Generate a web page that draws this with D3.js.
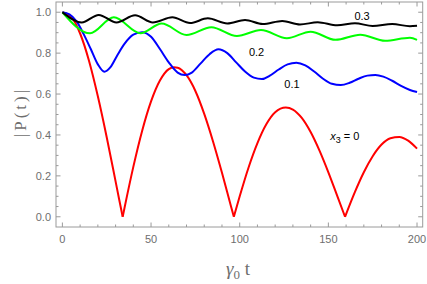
<!DOCTYPE html>
<html>
<head>
<meta charset="utf-8">
<script src="https://d3js.org/d3.v7.min.js"></script>
<style>
  body { margin: 0; background: #fff; }
  text { font-family: "Liberation Sans", Arial, sans-serif; }
</style>
</head>
<body>
<svg width="427" height="284"></svg>
<script>
// x3 = 0 (red), values read at t
const redT = [0, 5, 10, 15, 20, 25, 30, 32, 34, 35, 40, 45, 50, 55, 60, 63, 65, 70, 75, 80, 85, 90, 95, 96.7,
  100, 105, 110, 115, 120, 126, 130, 135, 140, 145, 150, 155, 159.4, 165, 170, 175, 180, 185, 190, 195, 200];
const redV = [1.0, 0.977, 0.896, 0.763, 0.589, 0.389, 0.173, 0.086, 0, 0.042, 0.244, 0.421, 0.564, 0.666, 0.722, 0.731, 0.729, 0.692, 0.615, 0.503, 0.367, 0.215, 0.054, 0,
  0.100, 0.241, 0.360, 0.452, 0.511, 0.534, 0.524, 0.483, 0.414, 0.323, 0.217, 0.102, 0, 0.122, 0.218, 0.296, 0.353, 0.384, 0.390, 0.372, 0.333];

// x3 = 0.1 (blue)
const blueT = [0, 4, 8, 12, 16, 20, 23.7, 27, 31, 35, 40, 45, 50, 55, 60, 65, 69, 73, 78, 83, 88, 93, 98, 103, 108, 112.5,
  117, 122, 127, 132, 137, 142, 147, 152, 157, 162, 167, 172, 176.5, 181, 186, 191, 196, 200];
const blueV = [1.0, 0.99, 0.955, 0.893, 0.82, 0.745, 0.709, 0.73, 0.79, 0.845, 0.89, 0.902, 0.88, 0.82, 0.755, 0.705, 0.693, 0.705, 0.75, 0.795, 0.819, 0.80, 0.755, 0.71, 0.68, 0.673,
  0.69, 0.72, 0.745, 0.753, 0.74, 0.71, 0.675, 0.65, 0.644, 0.655, 0.675, 0.69, 0.693, 0.685, 0.665, 0.64, 0.62, 0.61];

// x3 = 0.2 (green)
const greenT = [0, 15.6, 29, 44, 56, 70, 84, 98.4, 112, 126.6, 140, 154, 168, 182, 196, 200];
const greenV = [1.0, 0.897, 0.975, 0.897, 0.945, 0.889, 0.927, 0.884, 0.913, 0.873, 0.905, 0.865, 0.89, 0.86, 0.875, 0.865];

// x3 = 0.3 (black)
const blackT = [0, 10.9, 20.5, 30.5, 41, 51, 62, 72, 82, 93, 103, 113, 124, 134, 144, 155, 165, 175, 186, 196, 200];
const blackV = [1.0, 0.950, 0.987, 0.950, 0.985, 0.950, 0.975, 0.947, 0.970, 0.945, 0.962, 0.942, 0.957, 0.940, 0.951, 0.936, 0.946, 0.933, 0.942, 0.932, 0.934];

const xMajor = [0, 50, 100, 150, 200];
const yMajor = [0, 0.2, 0.4, 0.6, 0.8, 1.0];

const svg = d3.select("svg");
const x = d3.scaleLinear().domain([-3.6, 203.2]).range([56, 422.7]);
const y = d3.scaleLinear().domain([-0.05, 1.05]).range([227, 2]);

const frameColor = "#9a9a9a";
const tickText = "#6e6e6e";

// frame
svg.append("rect")
  .attr("x", x.range()[0]).attr("y", y.range()[1])
  .attr("width", x.range()[1] - x.range()[0])
  .attr("height", y.range()[0] - y.range()[1])
  .attr("fill", "none").attr("stroke", frameColor).attr("stroke-width", 1);

// ticks on all four sides, pointing inward
const xMinor = d3.range(0, 201, 10);
const yMinor = d3.range(0, 1.0001, 0.05);
const tickG = svg.append("g").attr("stroke", frameColor).attr("stroke-width", 1);
xMinor.forEach(t => {
  const len = xMajor.includes(t) ? 4.5 : 2.5;
  tickG.append("line").attr("x1", x(t)).attr("x2", x(t)).attr("y1", y.range()[0]).attr("y2", y.range()[0] - len);
  tickG.append("line").attr("x1", x(t)).attr("x2", x(t)).attr("y1", y.range()[1]).attr("y2", y.range()[1] + len);
});
yMinor.forEach(v => {
  const major = yMajor.some(m => Math.abs(m - v) < 1e-6);
  const len = major ? 4.5 : 2.5;
  tickG.append("line").attr("y1", y(v)).attr("y2", y(v)).attr("x1", x.range()[0]).attr("x2", x.range()[0] + len);
  tickG.append("line").attr("y1", y(v)).attr("y2", y(v)).attr("x1", x.range()[1]).attr("x2", x.range()[1] - len);
});

// tick labels
svg.append("g").selectAll("text").data(xMajor).join("text")
  .attr("x", d => x(d)).attr("y", 243)
  .attr("text-anchor", "middle").attr("font-size", 11).attr("fill", tickText)
  .text(d => d);
svg.append("g").selectAll("text").data(yMajor).join("text")
  .attr("x", 51).attr("y", d => y(d) + 4)
  .attr("text-anchor", "end").attr("font-size", 11).attr("fill", tickText)
  .text(d => d.toFixed(1));

// axis titles
svg.append("text")
  .attr("transform", "translate(26,112) rotate(-90)")
  .attr("text-anchor", "middle")
  .style("font-family", "'Liberation Serif', 'Times New Roman', serif")
  .attr("font-size", 17).attr("fill", tickText).attr("letter-spacing", 3)
  .text("|P(t)|");

const xt = svg.append("text")
  .attr("x", 238).attr("y", 275)
  .attr("text-anchor", "middle")
  .style("font-family", "'Liberation Serif', 'Times New Roman', serif")
  .attr("font-size", 19).attr("fill", tickText);
xt.append("tspan").attr("font-style", "italic").text("γ");
xt.append("tspan").attr("font-size", 13).attr("dy", 4).text("0");
xt.append("tspan").attr("dy", -4).text(" t");

// curves
const line = d3.line().x(d => x(d[0])).y(d => y(d[1])).curve(d3.curveMonotoneX);
const pairs = (ts, vs) => ts.map((t, i) => [t, vs[i]]);

// red has cusps at its zeros: draw each arch separately
const red = pairs(redT, redV);
const arches = [];
let cur = [];
red.forEach(p => {
  cur.push(p);
  if (p[1] === 0) { arches.push(cur); cur = [p]; }
});
if (cur.length > 1) arches.push(cur);

const series = [
  { pts: pairs(blackT, blackV), color: "#000000" },
  { pts: pairs(greenT, greenV), color: "#00ff00" },
  { pts: pairs(blueT, blueV), color: "#0000ff" }
];

const plot = svg.append("g").attr("fill", "none").attr("stroke-width", 2).attr("stroke-linejoin", "round");
arches.forEach(a => plot.append("path").attr("d", line(a)).attr("stroke", "#ff0000"));
series.slice().reverse().forEach(s => plot.append("path").attr("d", line(s.pts)).attr("stroke", s.color));

// curve labels
const labels = [
  { text: "0.3", t: 169, v: 0.962 },
  { text: "0.2", t: 109.5, v: 0.784 },
  { text: "0.1", t: 129.5, v: 0.628 }
];
svg.append("g").selectAll("text").data(labels).join("text")
  .attr("x", d => x(d.t)).attr("y", d => y(d.v))
  .attr("text-anchor", "middle").attr("font-size", 11).attr("fill", "#000")
  .text(d => d.text);

const xl = svg.append("text")
  .attr("x", x(151)).attr("y", y(0.375))
  .attr("font-size", 11).attr("fill", "#000");
xl.append("tspan").attr("font-style", "italic").text("x");
xl.append("tspan").attr("font-size", 9).attr("dy", 3).text("3");
xl.append("tspan").attr("dy", -3).text(" = 0");
</script>
</body>
</html>
